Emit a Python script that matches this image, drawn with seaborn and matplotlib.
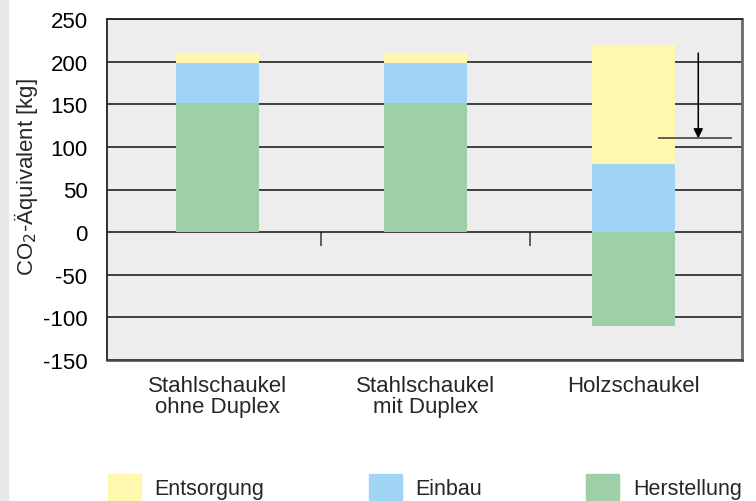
import matplotlib
matplotlib.use("Agg")
import matplotlib.pyplot as plt
import seaborn as sns
import numpy as np
from matplotlib.patches import Rectangle

# data (kg CO2-equivalent)
categories = ["Stahlschaukel\nohne Duplex", "Stahlschaukel\nmit Duplex", "Holzschaukel"]
herstellung = [152, 152, -110]
einbau = [46, 46, 80]
entsorgung = [12, 12, 140]
y_ticks = [-150, -100, -50, 0, 50, 100, 150, 200, 250]

# arrow marking the wood credit
arrow_from = 210
arrow_to = 110

colors = {"Entsorgung": "#FFF8AE", "Einbau": "#A0D4F4", "Herstellung": "#9ECFA8"}

sns.set_style("white")
plt.rcParams["font.family"] = ["Liberation Sans", "DejaVu Sans"]
plt.rcParams["axes.unicode_minus"] = False
fs = 16

fig = plt.figure(figsize=(7.56, 5.02), dpi=100)
fig.patches.append(Rectangle((0, 0), 8 / 756, 1, transform=fig.transFigure,
                             color="#e8e8e8", zorder=0))
ax = fig.add_axes([107 / 756, 1 - 361 / 502, 635 / 756, 341 / 502])
ax.set_facecolor("#EDEDED")

# stacked bars by overlapping cumulative heights
base = np.clip(herstellung, 0, None)
einbau_top = base + np.array(einbau)
entsorgung_top = einbau_top + np.array(entsorgung)

for heights, key in [(entsorgung_top, "Entsorgung"), (einbau_top, "Einbau"),
                     (herstellung, "Herstellung")]:
    sns.barplot(x=categories, y=heights, color=colors[key], width=0.4,
                saturation=1, linewidth=0, ax=ax, zorder=2)

ax.set_xlim(-0.53, 2.52)
ax.set_ylim(-150, 250)
ax.set_yticks(y_ticks)
ax.yaxis.grid(True, color="#111111", linewidth=1.1)
ax.set_axisbelow(True)

ax.tick_params(axis="y", length=10, width=1.2, color="#333333", labelsize=fs,
               pad=4, labelcolor="black")
ax.tick_params(axis="x", length=0, labelsize=fs, pad=11)
for lab in ax.get_xticklabels():
    lab.set_linespacing(1.0)

ax.set_xlabel("")
ax.set_ylabel("CO$_2$-Äquivalent [kg]", fontsize=fs)
ax.yaxis.set_label_coords(-0.106, 0.54)

for side in ["left", "top"]:
    ax.spines[side].set_color("#222222")
    ax.spines[side].set_linewidth(1.3)
ax.spines["right"].set_color("#6a6a6a")
ax.spines["right"].set_linewidth(2)
ax.spines["bottom"].set_color("#444444")
ax.spines["bottom"].set_linewidth(1.8)

# separator ticks on the zero line
sec = ax.secondary_xaxis(150 / 400)
sec.set_xticks([0.5, 1.5])
sec.tick_params(length=10, width=1.2, color="#444444", labelbottom=False)
sec.spines["bottom"].set_visible(False)

# arrow and reference line at the Holzschaukel bar
ax.annotate("", xy=(2.31, arrow_to), xytext=(2.31, arrow_from),
            arrowprops=dict(arrowstyle="-|>", color="black", lw=1.1,
                            mutation_scale=14, shrinkA=0, shrinkB=0), zorder=4)
ax.hlines(arrow_to, 2.115, 2.47, color="#444444", linewidth=1.2, zorder=4)

handles = [Rectangle((0, 0), 1, 1, color=colors[k]) for k in ["Entsorgung", "Einbau", "Herstellung"]]
fig.legend(handles, ["Entsorgung", "Einbau", "Herstellung"], loc="center left",
           bbox_to_anchor=(108 / 756, (502 - 488) / 502), ncol=3, frameon=False,
           fontsize=15.5, handlelength=1.53, handleheight=1.53, handletextpad=0.63,
           columnspacing=4.85, borderpad=0, borderaxespad=0)

fig.savefig("out.png", dpi=100)
